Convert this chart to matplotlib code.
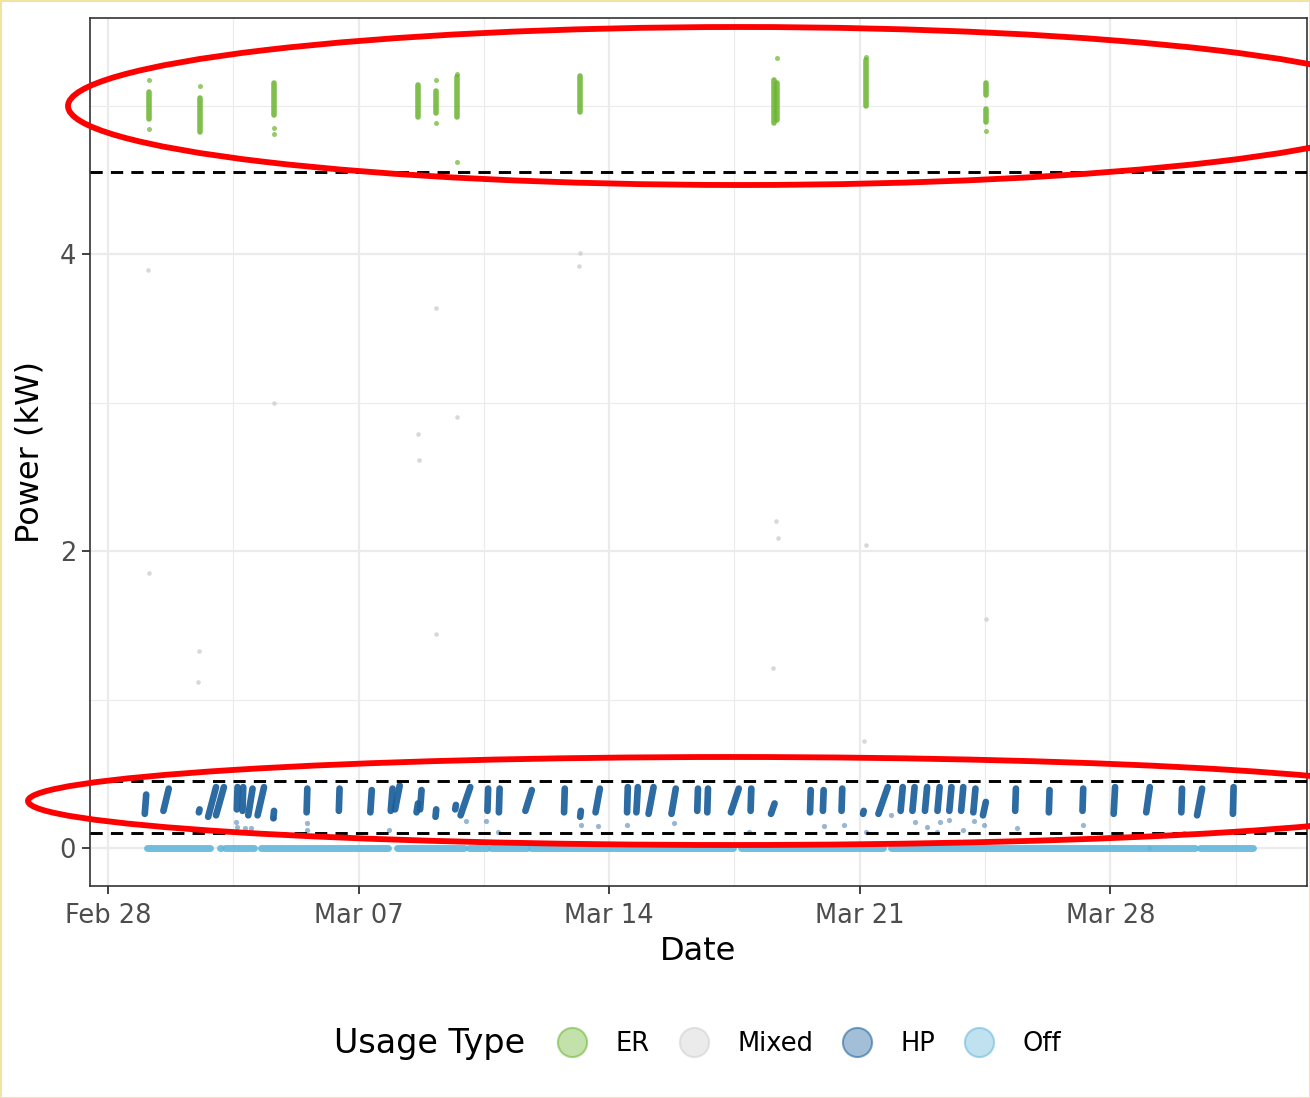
import numpy as np
import pandas as pd
import matplotlib
matplotlib.use("Agg")
import matplotlib.pyplot as plt
import matplotlib.dates as mdates
from matplotlib.lines import Line2D
from matplotlib.patches import Ellipse

plt.rcParams["font.family"] = ["DejaVu Sans"]

T0 = pd.Timestamp("2023-02-28")

# --- data (days after Feb 28, power in kW) ---
# Off: continuous runs at 0 kW
off_start = [1.10, 3.13, 3.27, 4.27, 8.07, 10.08, 10.69, 11.81, 17.68, 21.88, 29.11, 30.49]
off_end = [2.85, 3.15, 4.08, 7.82, 9.94, 10.58, 11.70, 17.46, 21.66, 29.05, 30.37, 31.98]

# HP: short heating runs (start day, end day, low kW, high kW)
hp_start = [1.03, 1.55, 2.54, 2.80, 3.02, 3.60, 3.76, 3.92, 4.18, 4.62, 5.55, 6.45,
            7.33, 7.90, 8.02, 8.62, 8.72, 9.15, 9.70, 9.85, 10.60, 10.92, 11.66,
            12.74, 13.19, 13.62, 14.50, 14.76, 15.10, 15.74, 16.46, 16.74, 17.40,
            17.95, 18.52, 19.61, 19.97, 20.49, 21.09, 21.52, 22.14, 22.47, 22.82,
            23.17, 23.50, 23.83, 24.17, 24.44, 25.34, 26.28, 27.22, 28.09, 29.00,
            29.98, 30.42, 31.42]
hp_end = [1.07, 1.70, 2.56, 3.02, 3.24, 3.62, 3.78, 4.04, 4.36, 4.64, 5.57, 6.47,
          7.37, 7.95, 8.15, 8.66, 8.76, 9.17, 9.72, 10.12, 10.62, 10.94, 11.84,
          12.76, 13.21, 13.74, 14.52, 14.80, 15.24, 15.86, 16.48, 16.76, 17.62,
          17.97, 18.62, 19.63, 19.99, 20.51, 21.11, 21.78, 22.20, 22.53, 22.88,
          23.23, 23.56, 23.89, 24.23, 24.52, 25.36, 26.30, 27.24, 28.13, 29.10,
          30.00, 30.56, 31.44]
hp_low = [0.23, 0.25, 0.24, 0.21, 0.22, 0.26, 0.25, 0.22, 0.22, 0.20, 0.24, 0.25,
          0.24, 0.25, 0.26, 0.24, 0.26, 0.21, 0.26, 0.22, 0.25, 0.24, 0.25,
          0.24, 0.21, 0.24, 0.24, 0.24, 0.23, 0.23, 0.25, 0.24, 0.24,
          0.25, 0.23, 0.24, 0.25, 0.25, 0.23, 0.23, 0.25, 0.25, 0.25,
          0.25, 0.25, 0.25, 0.24, 0.22, 0.25, 0.24, 0.25, 0.23, 0.24,
          0.24, 0.22, 0.23]
hp_high = [0.36, 0.40, 0.26, 0.41, 0.41, 0.41, 0.41, 0.40, 0.41, 0.25, 0.40, 0.40,
           0.39, 0.40, 0.42, 0.30, 0.39, 0.26, 0.29, 0.41, 0.40, 0.40, 0.39,
           0.40, 0.25, 0.40, 0.41, 0.41, 0.41, 0.40, 0.40, 0.40, 0.40,
           0.40, 0.30, 0.39, 0.39, 0.40, 0.25, 0.41, 0.41, 0.41, 0.41,
           0.41, 0.41, 0.41, 0.40, 0.31, 0.40, 0.39, 0.40, 0.41, 0.41,
           0.40, 0.40, 0.41]
# HP: isolated low readings
hp_pt_day = [3.59, 3.60, 3.84, 4.00, 4.63, 5.55, 5.57, 7.85, 10.00, 10.57, 10.90,
             13.20, 13.70, 14.50, 15.80, 17.90, 20.00, 20.55, 21.16, 21.88, 22.53,
             22.87, 23.15, 23.25, 23.48, 23.87, 24.20, 24.46, 25.38, 27.22, 30.05]
hp_pt_kw = [0.177, 0.144, 0.135, 0.135, 0.20, 0.165, 0.12, 0.12, 0.18, 0.18, 0.11,
            0.155, 0.145, 0.155, 0.165, 0.11, 0.15, 0.155, 0.105, 0.22, 0.177,
            0.144, 0.11, 0.177, 0.19, 0.12, 0.18, 0.155, 0.135, 0.155, 0.10]

# ER: resistance-heat bursts (day, low kW, high kW) plus stray readings
er_day = [1.14, 2.57, 4.65, 8.66, 9.16, 9.74, 13.19, 18.60, 18.70, 21.18, 24.53, 24.53]
er_low = [4.91, 4.82, 4.94, 4.92, 4.95, 4.92, 4.96, 4.88, 4.90, 5.00, 5.07, 4.89]
er_high = [5.09, 5.05, 5.15, 5.14, 5.10, 5.19, 5.20, 5.17, 5.15, 5.31, 5.15, 4.98]
er_pt_day = [1.14, 1.14, 2.57, 4.65, 4.65, 9.16, 9.16, 9.74, 9.75, 18.68, 21.18, 24.53]
er_pt_kw = [5.17, 4.84, 5.13, 4.85, 4.81, 5.17, 4.88, 5.21, 4.62, 5.32, 5.33, 4.83]

# Mixed readings
mixed_day = [1.12, 1.15, 2.55, 2.53, 4.64, 8.66, 8.69, 9.16, 9.16, 9.74, 13.19,
             13.16, 18.66, 18.72, 18.58, 21.17, 21.12, 24.52]
mixed_kw = [3.89, 1.85, 1.33, 1.12, 3.00, 2.79, 2.61, 3.64, 1.44, 2.90, 4.01,
            3.92, 2.20, 2.09, 1.21, 2.04, 0.72, 1.54]

thresholds = [4.55, 0.45, 0.10]

usage_types = ["ER", "Mixed", "HP", "Off"]
colors = {"ER": "#6ab42e", "Mixed": "#cfcfcf", "HP": "#1b5e9b", "Off": "#63b7db"}


def to_dt(days):
    return (T0 + pd.to_timedelta(np.asarray(days, dtype=float), unit="D")).to_numpy()


fig = plt.figure(figsize=(13.1, 10.98), dpi=100)
fig.patch.set_facecolor("white")
fig.patch.set_edgecolor("#f3e3a0")
fig.patch.set_linewidth(2)

ax = fig.add_axes([90 / 1310, 1 - 886 / 1098, 1217 / 1310, 868 / 1098])

# Off
for a, b in zip(to_dt(off_start), to_dt(off_end)):
    ax.plot([a, b], [0, 0], color=colors["Off"], lw=5.0, alpha=0.9,
            solid_capstyle="round", zorder=3)

# HP runs
for a, b, lo, hi in zip(to_dt(hp_start), to_dt(hp_end), hp_low, hp_high):
    ax.plot([a, b], [lo, hi], color=colors["HP"], lw=4.8, alpha=0.92,
            solid_capstyle="round", zorder=4)
ax.scatter(to_dt(hp_pt_day), hp_pt_kw, s=14, color=colors["HP"], alpha=0.45,
           linewidths=0, zorder=4)

# ER bursts
for d, lo, hi in zip(to_dt(er_day), er_low, er_high):
    ax.plot([d, d], [lo, hi], color=colors["ER"], lw=4.0, alpha=0.85,
            solid_capstyle="round", zorder=4)
ax.scatter(to_dt(er_pt_day), er_pt_kw, s=13, color=colors["ER"], alpha=0.7,
           linewidths=0, zorder=4)

# Mixed
ax.scatter(to_dt(mixed_day), mixed_kw, s=11, color=colors["Mixed"], alpha=0.8,
           linewidths=0, zorder=3)

for y in thresholds:
    ax.axhline(y, color="black", lw=2.1, dashes=(4.2, 2.8), zorder=5)

# axes / theme_bw look
major_days = [0, 7, 14, 21, 28]
ax.set_xticks(to_dt(major_days))
ax.set_xticks(to_dt([d + 3.5 for d in major_days]), minor=True)
ax.xaxis.set_major_formatter(mdates.DateFormatter("%b %d"))
ax.set_yticks([0, 2, 4])
ax.set_yticks([1, 3, 5], minor=True)
ax.set_xlim(to_dt([-0.5])[0], to_dt([33.49])[0])
ax.set_ylim(-0.256, 5.59)

ax.grid(which="major", color="#ebebeb", lw=1.6, zorder=0)
ax.grid(which="minor", color="#ebebeb", lw=0.8, zorder=0)
ax.set_axisbelow(True)
for sp in ax.spines.values():
    sp.set_color("#333333")
    sp.set_linewidth(1.2)
ax.tick_params(which="major", length=6, width=1.3, color="#333333",
               labelcolor="#4d4d4d", labelsize=18.5, pad=4)
ax.tick_params(axis="x", which="major", pad=6)
ax.tick_params(which="minor", length=0)

ax.set_xlabel("Date", fontsize=23, labelpad=5)
ax.set_ylabel("Power (kW)", fontsize=23, labelpad=10)

# legend
handles = [Line2D([], [], ls="none", marker="o", markersize=21,
                  markerfacecolor=matplotlib.colors.to_rgba(colors[k], 0.4),
                  markeredgecolor=matplotlib.colors.to_rgba(colors[k], 0.55),
                  markeredgewidth=1.5)
           for k in usage_types]
fig.text(334 / 1310, 1 - 1044 / 1098, "Usage Type", fontsize=24,
         ha="left", va="center")
fig.legend(handles, usage_types, loc="center", ncol=4,
           bbox_to_anchor=(809 / 1310, 1 - 1044 / 1098), frameon=False,
           fontsize=18.5, handlelength=1.2, handletextpad=1.1,
           columnspacing=1.1, borderpad=0)

# red annotation ellipses
ov = fig.add_axes([0, 0, 1, 1], facecolor="none")
ov.set_xlim(0, 1310)
ov.set_ylim(1098, 0)
ov.axis("off")
ov.add_patch(Ellipse((740, 106), 1344, 158, fill=False, ec="#ff0000", lw=4.2))
ov.add_patch(Ellipse((732, 801), 1408, 88, fill=False, ec="#ff0000", lw=4.2))

fig.savefig("out.png", dpi=100)
